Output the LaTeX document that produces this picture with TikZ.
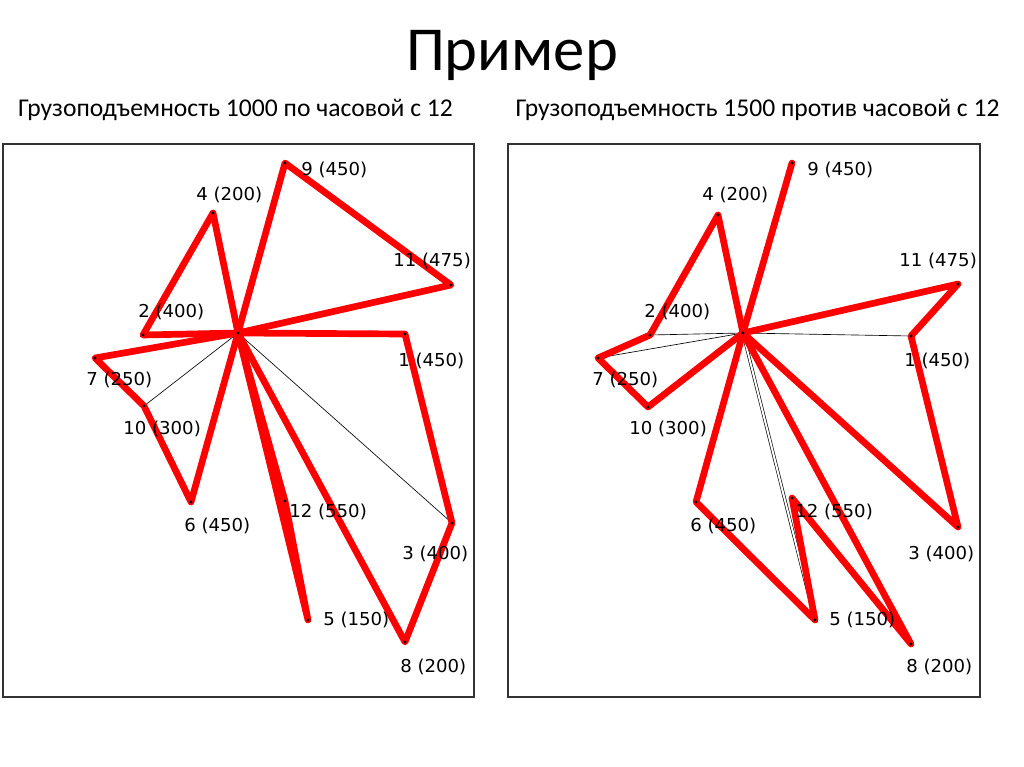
\documentclass[tikz,border=0pt]{standalone}
\usepackage{fontspec}
\setmainfont{Carlito}
\newfontfamily\lblfont[FakeStretch=1.02]{DejaVu Sans}
\begin{document}
\begin{tikzpicture}[x=0.703125pt,y=-0.703125pt,
  route/.style={draw=red, line width=4.7pt, line join=round, line cap=round},
  radial/.style={draw=black, line width=0.45pt},
  lbl/.style={font=\lblfont\fontsize{12.5}{13}\selectfont, anchor=west, inner sep=0pt},
  panel/.style={draw=black!80, line width=1.3pt},
  titlefont/.style={font=\fontsize{44}{50}\selectfont, inner sep=0pt},
  subfont/.style={font=\fontsize{18}{22}\selectfont, inner sep=0pt}]
\useasboundingbox (0,0) rectangle (1024,767);
\fill[white] (0,0) rectangle (1024,767);
% titles
\node[titlefont] (title) at (512,55) {Пример};
\node[subfont] (subL) at (235.5,110) {Грузоподъемность 1000 по часовой с 12};
\node[subfont] (subR) at (757.5,110) {Грузоподъемность 1500 против часовой с 12};
% panels
\draw[panel] (3,144) rectangle (474,697);
\draw[panel] (508,144) rectangle (980,697);
% left points
\coordinate (L0) at (238,333);
\coordinate (L1) at (405,334);
\coordinate (L2) at (143,335);
\coordinate (L3) at (452,523);
\coordinate (L4) at (213,213);
\coordinate (L5) at (308,620);
\coordinate (L6) at (191,502);
\coordinate (L7) at (95,358);
\coordinate (L8) at (405,642);
\coordinate (L9) at (285,163);
\coordinate (L10) at (144,406);
\coordinate (L11) at (451,285);
\coordinate (L12) at (285,501);
% right points
\coordinate (R0) at (743,333);
\coordinate (R1) at (911,336);
\coordinate (R2) at (650,335);
\coordinate (R3) at (958,527);
\coordinate (R4) at (718,215);
\coordinate (R5) at (815,620);
\coordinate (R6) at (696,502);
\coordinate (R7) at (598,358);
\coordinate (R8) at (911,644);
\coordinate (R9) at (792,163);
\coordinate (R10) at (648,407);
\coordinate (R11) at (958,284);
\coordinate (R12) at (792,498);
% thin radial lines
\draw[radial] (L0) -- (L10);
\draw[radial] (L0) -- (L3);
\draw[radial] (R0) -- (R2);
\draw[radial] (R0) -- (R7);
\draw[radial] (R0) -- (R1);
\draw[radial, double, double distance=1.4pt] (R0) -- (R5);
% left routes
\draw[route] (L0) -- (L4) -- (L2) -- cycle;
\draw[route] (L0) -- (L9) -- (L11) -- cycle;
\draw[route] (L0) -- (L1) -- (L3) -- (L8) -- cycle;
\draw[route] (L0) -- (L7) -- (L10) -- (L6) -- cycle;
\draw[route] (L0) -- (L12) -- (L5) -- cycle;
% right routes
\draw[route] (R0) -- (R9);
\draw[route] (R0) -- (R4) -- (R2) -- (R7) -- (R10) -- cycle;
\draw[route] (R0) -- (R11) -- (R1) -- (R3) -- cycle;
\draw[route] (R0) -- (R6) -- (R5) -- (R12) -- (R8) -- cycle;
% dots
\foreach \p in {L0,L1,L2,L3,L4,L5,L6,L7,L8,L9,L10,L11,L12,R0,R1,R2,R3,R4,R5,R6,R7,R8,R9,R10,R11,R12}
  \fill[black] (\p) circle (1.6);
% left labels
\node[lbl] (l9) at (301,170) {9 (450)};
\node[lbl] (l4) at (196,195) {4 (200)};
\node[lbl] (l11) at (393,261) {11 (475)};
\node[lbl] (l2) at (138,312) {2 (400)};
\node[lbl] (l1) at (398,361) {1 (450)};
\node[lbl] (l7) at (86,380) {7 (250)};
\node[lbl] (l10) at (123,429) {10 (300)};
\node[lbl] (l6) at (184,526) {6 (450)};
\node[lbl] (l12) at (289,512) {12 (550)};
\node[lbl] (l3) at (402,554) {3 (400)};
\node[lbl] (l5) at (323,620) {5 (150)};
\node[lbl] (l8) at (400,667) {8 (200)};
% right labels
\node[lbl] (r9) at (807,170) {9 (450)};
\node[lbl] (r4) at (702,195) {4 (200)};
\node[lbl] (r11) at (899,261) {11 (475)};
\node[lbl] (r2) at (644,312) {2 (400)};
\node[lbl] (r1) at (904,361) {1 (450)};
\node[lbl] (r7) at (592,380) {7 (250)};
\node[lbl] (r10) at (629,429) {10 (300)};
\node[lbl] (r6) at (690,526) {6 (450)};
\node[lbl] (r12) at (795,512) {12 (550)};
\node[lbl] (r3) at (908,554) {3 (400)};
\node[lbl] (r5) at (829,620) {5 (150)};
\node[lbl] (r8) at (906,667) {8 (200)};
\end{tikzpicture}
\end{document}
